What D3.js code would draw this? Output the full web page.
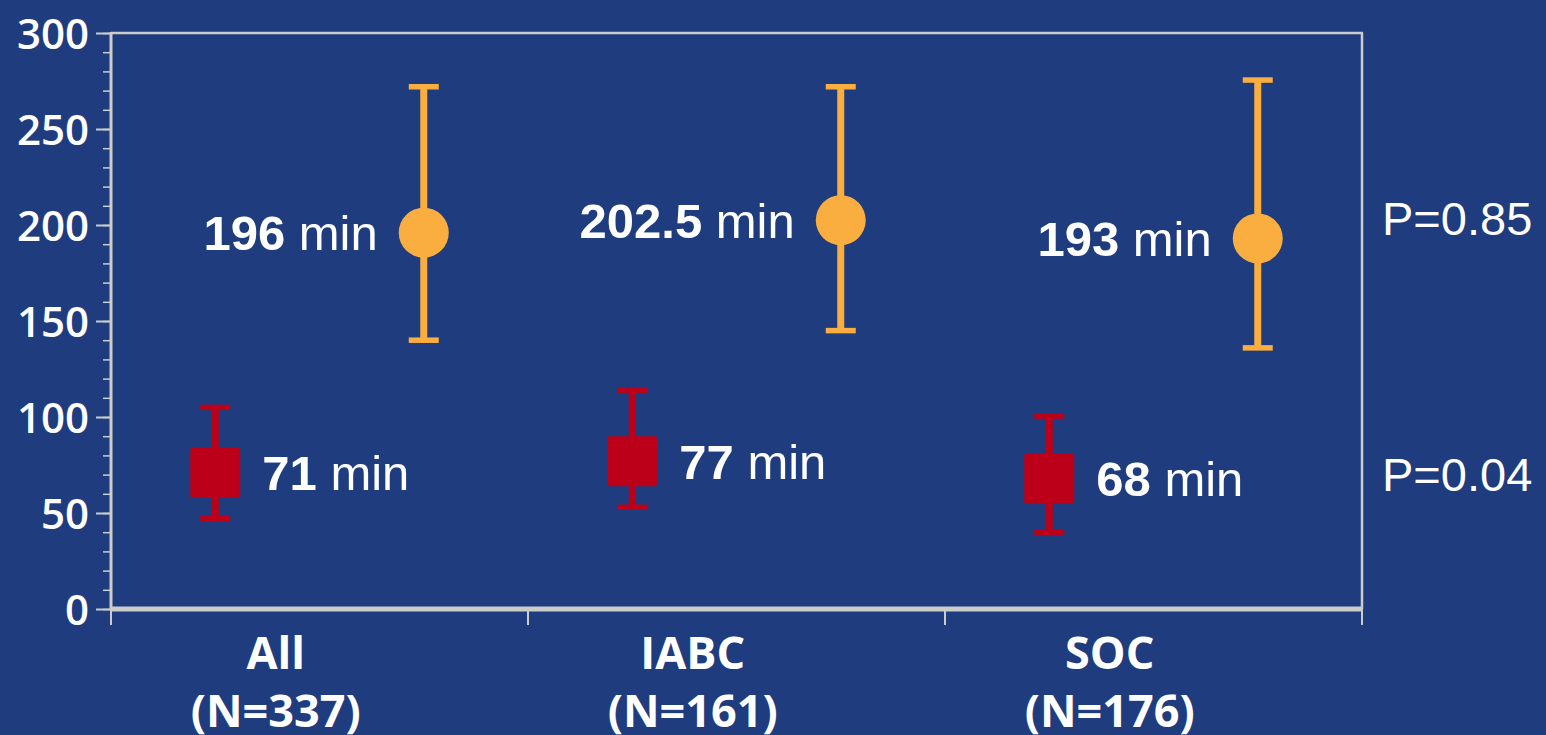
<!DOCTYPE html>
<html>
<head>
<meta charset="utf-8">
<script src="https://cdn.jsdelivr.net/npm/d3@7"></script>
<style>
  html, body { margin: 0; padding: 0; background: #1e3c7e; }
  svg { display: block; }
</style>
</head>
<body>
<script>
// ---- data ----
const categories = ["All", "IABC", "SOC"];
const nLabels = ["(N=337)", "(N=161)", "(N=176)"];
const orangeMedian = [196, 202.5, 193];
const orangeLow = [140, 145, 136];
const orangeHigh = [272, 272, 275.5];
const redMedian = [71, 77, 68];
const redLow = [47, 53, 40];
const redHigh = [105, 114, 100.5];
const orangeLabels = ["196", "202.5", "193"];
const redLabels = ["71", "77", "68"];
const pLabels = ["P=0.85", "P=0.04"];
const yTicks = [0, 50, 100, 150, 200, 250, 300];

(function () {
// ---- layout ----
const W = 1546, H = 735;
const mLeft = 111, mRight = 1362, mTop = 33, mBottom = 609;
const bg = "#1e3c7e", axisCol = "#cccccc", orange = "#fbae40", red = "#bd0019";

const svg = d3.select("body").append("svg").attr("width", W).attr("height", H);
svg.append("rect").attr("width", W).attr("height", H).attr("fill", bg);

const x = d3.scaleBand().domain(categories).range([mLeft, mRight]).padding(0);
const y = d3.scaleLinear().domain([0, 300]).range([mBottom, mTop]);
const bw = x.bandwidth();

// frame: top and right
svg.append("line").attr("x1", mLeft).attr("x2", mRight + 1).attr("y1", mTop).attr("y2", mTop)
  .attr("stroke", axisCol).attr("stroke-width", 2.5);
svg.append("line").attr("x1", mRight).attr("x2", mRight).attr("y1", mTop).attr("y2", mBottom)
  .attr("stroke", axisCol).attr("stroke-width", 2.5);

// y axis with minor ticks
const yAxisMinor = d3.axisLeft(y).tickValues(d3.range(0, 301, 10)).tickSize(8).tickFormat("");
const gMinor = svg.append("g").attr("transform", `translate(${mLeft},0)`).call(yAxisMinor);
gMinor.select(".domain").remove();
gMinor.selectAll("line").attr("stroke", axisCol).attr("stroke-width", 1.5);

const yAxis = d3.axisLeft(y).tickValues(yTicks).tickSize(15).tickPadding(7);
const gY = svg.append("g").attr("transform", `translate(${mLeft},0)`).call(yAxis);
gY.select(".domain").remove();
gY.selectAll("line").attr("stroke", axisCol).attr("stroke-width", 2);
gY.selectAll("text").attr("fill", "#ffffff")
  .style("font-family", "'Open Sans', sans-serif").style("font-weight", 600)
  .style("font-size", "42px").attr("dy", "0.36em");

// y axis line
svg.append("line").attr("x1", mLeft).attr("x2", mLeft).attr("y1", mTop - 1).attr("y2", mBottom)
  .attr("stroke", axisCol).attr("stroke-width", 3);

// x axis
const xTickPositions = categories.map(c => x(c)).concat([mRight]);
svg.selectAll(".xtick").data(xTickPositions).enter().append("line")
  .attr("x1", d => d).attr("x2", d => d).attr("y1", mBottom).attr("y2", mBottom + 16)
  .attr("stroke", axisCol).attr("stroke-width", 2);
svg.append("line").attr("x1", mLeft).attr("x2", mRight + 1).attr("y1", mBottom).attr("y2", mBottom)
  .attr("stroke", axisCol).attr("stroke-width", 5);

// category labels
const catX = c => x(c) + bw * 0.395;
const catG = svg.append("g").attr("fill", "#ffffff")
  .style("font-family", "'Open Sans', sans-serif").style("font-weight", 700)
  .style("font-size", "45px").attr("text-anchor", "middle");
categories.forEach((c, i) => {
  catG.append("text").attr("x", catX(c)).attr("y", 669).text(c);
  catG.append("text").attr("x", catX(c)).attr("y", 727).text(nLabels[i]);
});

const ox = c => x(c) + bw * 0.75;
const rx = c => x(c) + bw * 0.25;
const capW = 30;

// orange series
categories.forEach((c, i) => {
  const cx = ox(c);
  svg.append("line").attr("x1", cx).attr("x2", cx)
    .attr("y1", y(orangeHigh[i])).attr("y2", y(orangeLow[i]))
    .attr("stroke", orange).attr("stroke-width", 7);
  [orangeHigh[i], orangeLow[i]].forEach(v => {
    svg.append("line").attr("x1", cx - capW / 2).attr("x2", cx + capW / 2)
      .attr("y1", y(v)).attr("y2", y(v)).attr("stroke", orange).attr("stroke-width", 5.5);
  });
  svg.append("circle").attr("cx", cx).attr("cy", y(orangeMedian[i])).attr("r", 25).attr("fill", orange);

  const t = svg.append("text").attr("x", cx - 46).attr("y", y(orangeMedian[i])).attr("dy", "0.358em")
    .attr("text-anchor", "end").attr("fill", "#ffffff")
    .style("font-family", "'Liberation Sans', Arial, sans-serif").style("font-size", "49px");
  t.append("tspan").style("font-weight", 700).text(orangeLabels[i]);
  t.append("tspan").style("font-weight", 400).text(" min");
});

// red series
categories.forEach((c, i) => {
  const cx = rx(c);
  svg.append("line").attr("x1", cx).attr("x2", cx)
    .attr("y1", y(redHigh[i])).attr("y2", y(redLow[i]))
    .attr("stroke", red).attr("stroke-width", 7);
  [redHigh[i], redLow[i]].forEach(v => {
    svg.append("line").attr("x1", cx - capW / 2).attr("x2", cx + capW / 2)
      .attr("y1", y(v)).attr("y2", y(v)).attr("stroke", red).attr("stroke-width", 5.5);
  });
  svg.append("rect").attr("x", cx - 25).attr("y", y(redMedian[i]) - 25)
    .attr("width", 50).attr("height", 50).attr("rx", 2).attr("fill", red);

  const t = svg.append("text").attr("x", cx + 47).attr("y", y(redMedian[i])).attr("dy", "0.358em")
    .attr("text-anchor", "start").attr("fill", "#ffffff")
    .style("font-family", "'Liberation Sans', Arial, sans-serif").style("font-size", "49px");
  t.append("tspan").style("font-weight", 700).text(redLabels[i]);
  t.append("tspan").style("font-weight", 400).text(" min");
});

// p-values
const pY = [218, 474];
svg.selectAll(".pval").data(pLabels).enter().append("text")
  .attr("x", 1382).attr("y", (d, i) => pY[i]).attr("dy", "0.358em")
  .attr("fill", "#ffffff")
  .style("font-family", "'Liberation Sans', Arial, sans-serif").style("font-size", "47px")
  .text(d => d);
})();
</script>
</body>
</html>
